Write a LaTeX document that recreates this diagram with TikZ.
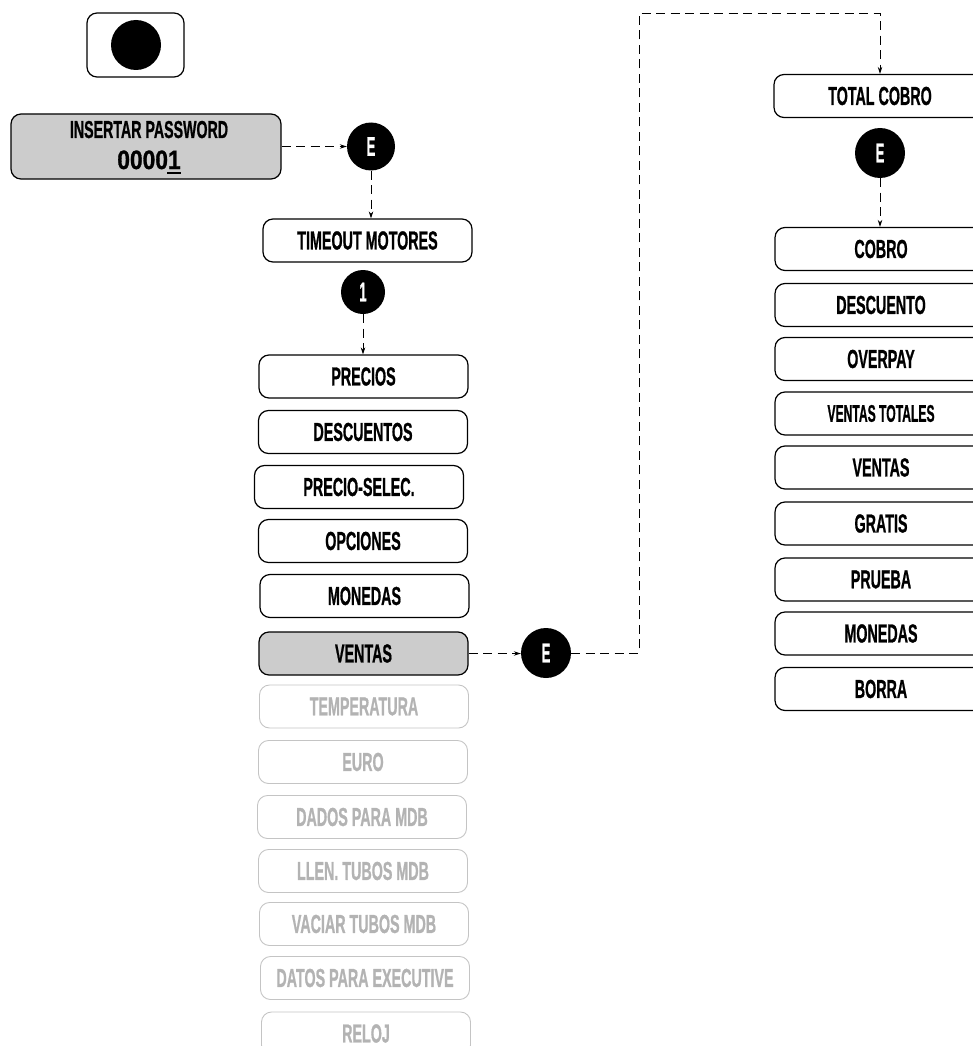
\documentclass[tikz,border=0pt]{standalone}
\usepackage{fontspec}
\usepackage{graphicx}
\setmainfont{Liberation Sans}
\newfontfamily\heavy{Liberation Sans Bold}[UprightFeatures={FakeBold=1.2}]
\usetikzlibrary{arrows.meta}
\definecolor{panelgray}{HTML}{CCCCCC}
\definecolor{fadeline}{HTML}{C4C4C4}
\definecolor{fadetext}{HTML}{B3B3B3}
% condensed label text
\newcommand\cnd[2][0.55]{\scalebox{#1}[1]{#2}}

\begin{document}
\begin{tikzpicture}[x=1pt,y=-1pt,
  menu/.style={draw=black, line width=1.2pt, rounded corners=10pt,
    minimum width=209pt, minimum height=43pt, inner sep=0pt,
    font=\heavy\fontsize{26}{28}\selectfont},
  current/.style={menu, fill=panelgray},
  faded/.style={menu, draw=fadeline, text=fadetext, line width=0.9pt},
  badge/.style={circle, fill=black, minimum size=48pt, inner sep=0pt,
    text=white, font=\heavy\fontsize{27}{29}\selectfont},
  flow/.style={line width=0.9pt, dash pattern=on 9pt off 5.5pt,
    -{Stealth[length=7pt,width=4.5pt]}}]

\useasboundingbox (0,0) rectangle (972,1046);

% key with the black button
\node[draw, line width=1.2pt, rounded corners=10pt, minimum width=97pt,
      minimum height=64pt, inner sep=0pt] (key) at (135.5,45) {};
\node[circle, fill=black, minimum size=50pt, inner sep=0pt] (dot) at (136,45) {};

% password entry
\node[current, minimum width=270pt, minimum height=65pt] (pw) at (146,146.5) {};
\node[font=\heavy\fontsize{24.5}{26}\selectfont, inner sep=0pt,
      anchor=base] (pwtitle) at (149,138) {\cnd[0.58]{INSERTAR PASSWORD}};
\node[font=\heavy\fontsize{26.5}{28}\selectfont, inner sep=0pt,
      anchor=base] (pwcode) at (149,169)
      {\cnd[0.86]{0000\makebox[0pt][l]{\kern-1pt\rule[-5pt]{16pt}{2.4pt}}1}};

\node[badge] (e1) at (371,146.5) {\cnd[0.48]{E}};
\node[menu] (tm) at (367.5,240.5) {\cnd{TIMEOUT MOTORES}};
\node[badge, minimum size=44pt] (one) at (363,292) {\cnd[0.48]{1}};

% main menu
\node[menu] (precios) at (363.5,376.5) {\cnd{PRECIOS}};
\node[menu] (descuentos) at (363,432) {\cnd{DESCUENTOS}};
\node[menu] (preciosel) at (359,487) {\cnd{PRECIO-SELEC.}};
\node[menu] (opciones) at (363,541) {\cnd{OPCIONES}};
\node[menu] (monedasL) at (364.5,596) {\cnd{MONEDAS}};
\node[current] (ventasL) at (363.5,653.5) {\cnd{VENTAS}};
\node[faded] (temp) at (364,706.5) {\cnd{TEMPERATURA}};
\node[faded] (euro) at (363,762) {\cnd{EURO}};
\node[faded] (dados) at (362,817) {\cnd{DADOS PARA MDB}};
\node[faded] (llen) at (363,871) {\cnd{LLEN. TUBOS MDB}};
\node[faded] (vaciar) at (364,924) {\cnd{VACIAR TUBOS MDB}};
\node[faded] (exec) at (365,978) {\cnd{DATOS PARA EXECUTIVE}};
\node[faded] (reloj) at (366,1033.5) {\cnd{RELOJ}};

\node[badge, minimum size=50pt] (e3) at (546,653) {\cnd[0.48]{E}};

% sales submenu
\node[menu, minimum width=212pt] (tc) at (880,96) {\cnd{TOTAL COBRO}};
\node[badge, minimum size=50pt] (e2) at (880,153) {\cnd[0.48]{E}};
\node[menu, minimum width=212pt] (cobro) at (881,249) {\cnd{COBRO}};
\node[menu, minimum width=212pt] (descuento) at (881,305) {\cnd{DESCUENTO}};
\node[menu, minimum width=212pt] (overpay) at (881,359) {\cnd{OVERPAY}};
\node[menu, minimum width=212pt, font=\heavy\fontsize{24}{26}\selectfont]
      (vtot) at (881,413.5) {\cnd[0.505]{VENTAS TOTALES}};
\node[menu, minimum width=212pt] (ventasR) at (881,467.5) {\cnd{VENTAS}};
\node[menu, minimum width=212pt] (gratis) at (881,523.5) {\cnd{GRATIS}};
\node[menu, minimum width=212pt] (prueba) at (881,579.5) {\cnd{PRUEBA}};
\node[menu, minimum width=212pt] (monedasR) at (881,633.5) {\cnd{MONEDAS}};
\node[menu, minimum width=212pt] (borra) at (881,689) {\cnd{BORRA}};

% connectors
\draw[flow] (pw.east) -- (e1.west);
\draw[flow] (e1.south) -- (e1.south |- tm.north);
\draw[flow] (one.south) -- (one.south |- precios.north);
\draw[flow] (ventasL.east) -- (ventasL.east -| e3.west);
\coordinate (riseBot) at (639,653);
\coordinate (riseTop) at (639,13);
\draw[flow] (e3.east) -- (riseBot) -- (riseTop) -- (riseTop -| e2) -- (e2 |- tc.north);
\draw[flow] (e2.south) -- (e2.south |- cobro.north);

\end{tikzpicture}
\end{document}
